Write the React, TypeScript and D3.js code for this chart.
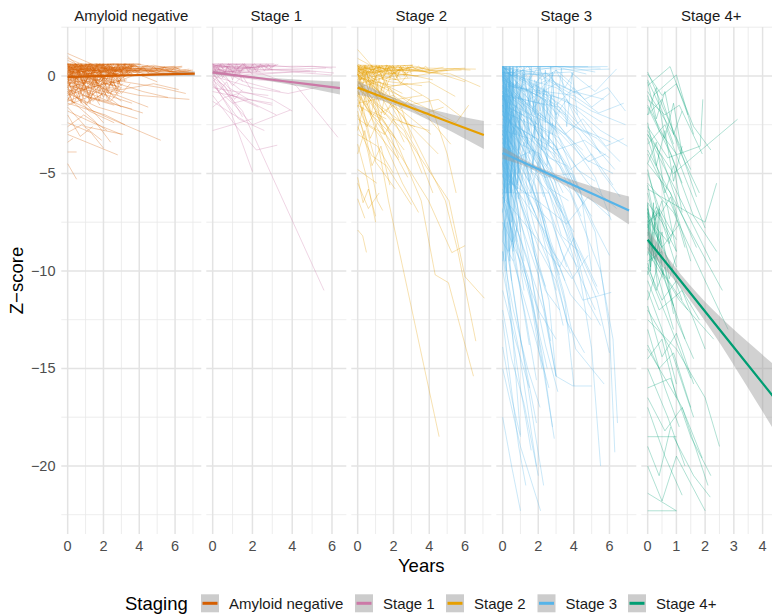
import React from 'react';
import * as d3 from 'd3';

const stageNames = ['Amyloid negative', 'Stage 1', 'Stage 2', 'Stage 3', 'Stage 4+'];
const stageColors = ['#D55E00', '#CC79A7', '#E69F00', '#56B4E9', '#009E73'];

// Each trajectory: flat list of [years, z-score, years, z-score, ...]
const amyloidNegative: number[][] = [
  [0, 0.6, 1.5, 0.55, 3.7, 0.6], [0, 0.5, 2, 0.6, 3.6, 0.5], [0, 0.4, 1.2, 0.5, 2.6, 0.6, 4.1, 0.6],
  [0, 0.3, 2, 0.4, 4, 0.5, 6.4, 0.45], [0, 0.2, 2.2, 0.3, 4.5, 0.4, 6.2, 0.4], [0, 0.1, 1.5, 0.3, 3, 0.3, 5.9, 0.3],
  [0, 0.5, 2.1, 0.45, 4.3, 0.35, 6.6, 0.3], [0, 0.0, 1.8, 0.2, 3.8, 0.25, 6.8, 0.2], [0, 0.35, 2, 0.25, 4.6, 0.3, 7, 0.15],
  [0, 0.15, 1.1, 0.4, 3.2, 0.35, 5.4, 0.4], [0, -0.2, 1, 0.1, 2.4, 0.3, 4.8, 0.25], [0, 0.25, 1.4, 0.0, 3.5, 0.2, 5.5, 0.1],
  [0, -0.1, 2.2, 0.1, 4.4, 0.0, 6.1, 0.2], [0, 0.45, 1.3, 0.3, 2.8, 0.1], [0, 0.6, 0.9, 0.4, 2.5, 0.5],
  [0, -0.4, 1.6, -0.1, 3.1, 0.2], [0, 0.05, 1, -0.3, 2.3, -0.1, 3.4, 0.1], [0, -0.6, 1.2, -0.3, 2.7, -0.5],
  [0, 0.3, 1.5, -0.2, 3, -0.6], [0, -0.3, 0.9, -0.7, 2.1, -0.4, 3.3, -0.2], [0, -0.8, 1.4, -0.5, 2.9, -0.9],
  [0, 0.2, 1, -0.5, 2, -1.0], [0, -1.0, 1.2, -0.6, 2.5, -0.3], [0, -0.5, 1.9, -0.9, 3.6, -1.4],
  [0, 0.1, 2, -0.6, 4, -1.0, 6.8, -1.2], [0, 0.4, 2.5, -0.2, 5.2, -0.6, 6.6, -0.9], [0, -1.3, 0.8, -1.0, 2.2, -1.3],
  [0, -1.5, 1.1, -1.1, 2.6, -1.5], [0, 1.15, 1.5, 0.55], [0, 0.9, 0.8, 0.6, 2.1, 0.55], [0, 0.8, 1.2, 0.3, 2.8, 0.4],
  [0, -0.2, 3, -0.7, 4.8, -0.4, 6.2, -0.7], [0, 0.0, 2.5, -0.3, 4.2, -0.8, 5.6, -1.1], [0, -0.7, 1.6, -1.2, 3.6, -1.7],
  [0, -1.8, 1.4, -2.4, 3, -3.0], [0, -2.6, 0.9, -2.0, 2.2, -2.8], [0, -3.0, 1.6, -3.6, 2.8, -4.05],
  [0, -0.9, 1.7, -1.6, 3.9, -2.2], [0, -1.2, 2.4, -2.2, 5.2, -3.3], [0, -4.5, 0.5, -5.3], [0, -3.9, 0.5, -3.9],
  [0, -2.4, 1.3, -2.9, 2, -3.7], [0, -1.6, 1, -2.6, 3.1, -3.0], [0, -0.6, 1.2, -1.8, 2.6, -2.4],
  [0, -2.0, 0.7, -3.1, 1.4, -2.6], [0, -1.4, 2.1, -2.0, 3.2, -2.5], [0, -2.9, 0.8, -2.5, 1.9, -3.3],
  [0, -0.4, 2.8, -1.5, 4.2, -1.9], [0, -3.4, 0.3, -3.2], [0, -1.1, 1.5, -2.3, 2.4, -3.4], [0, -0.8, 1.1, -1.5, 2, -2.4],
  [0, -0.3, 2.8, -1.0, 4.5, -1.6],
  [0, 0.6, 0.5, 0.2, 1.0, 0.6, 1.6, 0.1, 2.2, 0.55, 2.9, 0.2, 3.6, 0.6],
  [0, 0.2, 0.6, 0.6, 1.2, 0.0, 1.9, 0.5, 2.5, -0.1, 3.2, 0.4],
  [0, -0.3, 0.7, 0.3, 1.4, -0.2, 2.1, 0.4, 2.8, -0.3, 3.5, 0.2],
  [0, 0.45, 0.4, -0.2, 1.1, 0.3, 1.7, -0.4, 2.4, 0.2, 3.0, -0.2],
  [0, -0.6, 0.5, 0.1, 1.3, -0.5, 2.0, 0.0, 2.7, -0.7],
  [0, 0.0, 0.8, -0.8, 1.5, -0.2, 2.3, -0.9, 3.1, -0.4],
  [0, -0.9, 0.6, -0.3, 1.2, -1.0, 1.9, -0.4, 2.6, -1.1],
  [0, 0.55, 1.0, 0.0, 2.0, 0.45, 3.0, -0.1, 4.0, 0.3],
  [0, -0.15, 0.9, 0.45, 1.8, -0.3, 2.6, 0.35, 3.7, 0.0],
  [0, 0.35, 0.5, -0.5, 1.0, 0.2, 1.5, -0.6, 2.0, 0.1],
  [0, -1.2, 0.7, -0.5, 1.4, -1.3, 2.2, -0.7],
  [0, -0.45, 1.1, -1.1, 2.0, -0.6, 3.0, -1.3],
  [0, 0.1, 0.3, 0.6, 0.9, -0.4, 1.6, 0.5, 2.3, -0.5, 3.3, 0.3],
  [0, 0.6, 1.0, 0.3, 2.0, 0.6, 3.0, 0.3, 4.0, 0.6, 5.0, 0.4, 6.0, 0.5],
  [0, 0.4, 1.2, 0.6, 2.4, 0.3, 3.6, 0.55, 4.8, 0.25, 6.3, 0.4],
  [0, 0.25, 1.5, 0.5, 3.0, 0.2, 4.5, 0.45, 6.0, 0.2, 7.0, 0.3],
  [0, 0.5, 1.7, 0.15, 3.4, 0.45, 5.1, 0.15, 6.8, 0.35],
  [0, 0.05, 1.4, 0.35, 2.8, 0.05, 4.2, 0.35, 5.6, 0.05],
  [0, -0.25, 1.3, 0.15, 2.6, -0.35, 3.9, 0.1, 5.0, -0.3],
  [0, -0.7, 1.0, -1.4, 2.0, -0.9, 3.0, -1.6],
  [0, 0.62, 0.3, 0.3, 0.6, 0.62, 0.9, 0.2, 1.2, 0.6, 1.5, 0.25, 1.8, 0.62, 2.1, 0.3, 2.4, 0.6, 2.7, 0.2, 3.0, 0.55, 3.3, 0.3, 3.7, 0.62],
  [0, 0.4, 0.35, 0.0, 0.7, 0.45, 1.05, -0.1, 1.4, 0.4, 1.75, -0.05, 2.1, 0.45, 2.45, 0.0, 2.8, 0.5, 3.15, 0.05, 3.5, 0.4],
  [0, 0.1, 0.3, -0.4, 0.6, 0.2, 0.9, -0.5, 1.2, 0.1, 1.5, -0.45, 1.8, 0.15, 2.1, -0.5, 2.4, 0.0, 2.7, -0.6, 3.0, -0.1],
  [0, -0.3, 0.4, -0.9, 0.8, -0.2, 1.2, -1.0, 1.6, -0.3, 2.0, -1.1, 2.4, -0.4, 2.8, -1.0],
  [0, -0.8, 0.35, -1.4, 0.7, -0.7, 1.05, -1.5, 1.4, -0.9, 1.8, -1.5],
  [0, 0.55, 0.5, 0.05, 1.0, 0.5, 1.5, 0.0, 2.0, 0.55, 2.5, 0.1, 3.0, 0.5, 3.5, 0.15, 4.0, 0.45],
  [0, 0.25, 0.45, 0.62, 0.9, 0.1, 1.35, 0.55, 1.8, 0.0, 2.25, 0.5, 2.7, 0.05, 3.15, 0.6, 3.6, 0.1],
  [0, -0.1, 0.5, 0.4, 1.0, -0.3, 1.5, 0.35, 2.0, -0.4, 2.5, 0.25, 3.0, -0.5],
  [0, 0.62, 0.8, 0.45, 1.6, 0.62, 2.4, 0.4, 3.2, 0.62, 4.0, 0.45, 4.8, 0.55, 5.6, 0.4, 6.4, 0.5],
  [0, 0.45, 0.9, 0.2, 1.8, 0.5, 2.7, 0.25, 3.6, 0.5, 4.5, 0.2, 5.4, 0.45, 6.3, 0.25, 7.0, 0.2],
  [0, 0.3, 1.0, 0.55, 2.0, 0.25, 3.0, 0.5, 4.0, 0.2, 5.0, 0.4, 6.0, 0.15, 6.9, 0.3],
  [0, 0.15, 1.1, 0.4, 2.2, 0.1, 3.3, 0.45, 4.4, 0.05, 5.5, 0.3, 6.5, 0.1],
  [0, 0.5, 0.6, 0.62, 1.2, 0.35, 1.8, 0.62, 2.4, 0.35, 3.0, 0.62],
  [0, -0.5, 0.5, -0.1, 1.0, -0.7, 1.5, -0.2, 2.0, -0.8, 2.5, -0.3, 3.0, -0.9, 3.5, -0.4],
  [0, -1.0, 0.6, -0.4, 1.2, -1.2, 1.8, -0.5, 2.4, -1.3, 3.0, -0.6],
  [0, 0.0, 0.7, 0.3, 1.4, -0.1, 2.1, 0.35, 2.8, -0.05, 3.5, 0.3, 4.2, 0.0, 5.0, 0.3],
  [0, 0.6, 0.25, 0.1, 0.5, 0.6, 0.75, 0.0, 1.0, 0.55, 1.25, -0.1, 1.5, 0.5],
  [0, -0.2, 0.25, 0.5, 0.5, -0.3, 0.75, 0.45, 1.0, -0.4, 1.25, 0.4, 1.5, -0.3, 1.75, 0.35, 2.0, -0.2],
  [0, -1.3, 0.3, -0.5, 0.6, -1.2, 0.9, -0.3, 1.2, -1.0, 1.5, -0.2],
  [0, 0.62, 2.0, 0.62, 4.0, 0.62], [0, 0.62, 1.2, 0.5, 2.5, 0.62, 3.8, 0.55], [0, 1.0, 0.6, 0.5, 1.3, 0.62],
  [0, 0.62, 0.2, 0, 0.4, 0.62, 0.6, 0, 0.8, 0.62, 1.0, 0, 1.2, 0.62, 1.4, 0, 1.6, 0.62, 1.8, 0, 2.0, 0.62, 2.2, 0, 2.4, 0.62, 2.6, 0, 2.8, 0.62, 3.0, 0, 3.2, 0.62, 3.4, 0, 3.6, 0.6],
  [0, -0.4, 0.2, 0.3, 0.4, -0.4, 0.6, 0.3, 0.8, -0.4, 1.0, 0.3, 1.2, -0.4, 1.4, 0.3, 1.6, -0.4, 1.8, 0.3, 2.0, -0.4, 2.2, 0.3, 2.4, -0.4, 2.6, 0.3, 2.8, -0.4, 3.0, 0.3, 3.2, -0.3],
  [0, 0, 0.25, -0.9, 0.5, 0, 0.75, -0.9, 1.0, 0, 1.25, -0.9, 1.5, 0, 1.75, -0.9, 2.0, 0, 2.25, -0.9, 2.5, 0, 2.75, -0.8, 3.0, 0],
  [0, -0.5, 0.25, -1.4, 0.5, -0.5, 0.75, -1.4, 1.0, -0.5, 1.25, -1.4, 1.5, -0.5, 1.75, -1.3, 2.0, -0.6, 2.25, -1.3, 2.5, -0.7],
  [0, 0.2, 0.15, 0.62, 0.3, 0.2, 0.45, 0.62, 0.6, 0.2, 0.75, 0.62, 0.9, 0.2, 1.05, 0.62, 1.2, 0.2, 1.35, 0.62, 1.5, 0.2, 1.65, 0.62, 1.8, 0.2, 1.95, 0.62, 2.1, 0.2, 2.25, 0.62, 2.4, 0.2, 2.55, 0.62, 2.7, 0.2, 2.85, 0.62, 3.0, 0.2, 3.15, 0.62, 3.3, 0.2, 3.45, 0.62, 3.6, 0.3],
  [0, 0.5, 0.3, 0.15, 0.6, 0.5, 0.9, 0.15, 1.2, 0.5, 1.5, 0.15, 1.8, 0.5, 2.1, 0.15, 2.4, 0.5, 2.7, 0.15, 3.0, 0.5, 3.3, 0.15, 3.6, 0.5, 3.9, 0.15, 4.2, 0.5, 4.5, 0.15, 4.8, 0.5, 5.1, 0.2, 5.4, 0.45, 5.7, 0.2, 6.0, 0.45, 6.3, 0.3],
  [0, 0.2, 0.1, -0.5, 0.3, 0.2, 0.5, -0.5, 0.7, 0.2, 0.9, -0.5, 1.1, 0.2, 1.3, -0.5, 1.5, 0.2, 1.7, -0.5, 1.9, 0.2, 2.1, -0.5, 2.3, 0.2, 2.5, -0.5, 2.7, 0.1, 2.9, -0.4],
  [0, 0.4, 0.25, 0.62, 0.5, 0.3, 0.75, 0.62, 1.0, 0.3, 1.25, 0.62, 1.5, 0.3, 1.75, 0.62, 2.0, 0.3, 2.25, 0.62, 2.5, 0.3, 2.75, 0.62, 3.0, 0.3, 3.25, 0.62, 3.5, 0.35, 3.75, 0.6, 4.0, 0.35, 4.5, 0.55],
];

const stage1: number[][] = [
  [0, 0.6, 1.2, 0.6, 3.2, 0.55], [0, 0.5, 1.5, 0.4, 2.8, 0.5], [0, 0.4, 1.0, 0.5, 2.3, 0.4],
  [0, 0.3, 2.0, 0.45, 4.2, 0.5, 6.2, 0.45], [0, 0.2, 1.5, 0.3, 3.8, 0.35, 5.7, 0.4], [0, 0.55, 2.2, 0.35, 4.5, 0.3, 6.1, 0.15],
  [0, 0.1, 1.2, 0.25, 2.5, 0.15, 4.9, 0.25], [0, 0.45, 0.7, 0.2, 1.6, 0.3], [0, 0.35, 1.3, 0.15, 3.0, 0.3, 5.2, 0.2],
  [0, 0.0, 1.0, 0.35, 2.1, 0.45], [0, 0.25, 2.0, 0.05, 4.0, 0.2, 6.0, 0.05], [0, 0.6, 0.5, 0.45, 1.4, 0.6],
  [0, 0.15, 0.9, 0.0, 2.3, -0.2, 3.6, -0.3], [0, 0.3, 0.8, -0.6, 1.8, -1.2, 3.0, -1.4], [0, 0.1, 1.0, -1.0, 2.3, -1.6],
  [0, -0.2, 0.7, -0.9, 1.8, -1.3, 3.2, -2.0], [0, 0.4, 1.5, -0.8, 3.0, -1.2, 4.0, -1.8],
  [0, 0.2, 1.1, -1.5, 2.0, -2.5, 3.9, -1.75], [0, -0.5, 1.0, -1.4, 1.8, -1.2], [0, -0.3, 0.9, -1.8, 2.0, -4.9],
  [0, -1.0, 1.2, -2.6, 2.2, -3.8, 3.25, -3.55], [0, -2.8, 1.0, -2.5, 2.0, -2.2], [0, -1.6, 0.6, -1.1, 1.3, -0.9],
  [0.2, -0.3, 1.5, -1.8, 5.6, -11.0], [0, 0.3, 2.5, 0.1, 4.2, -0.5, 6.3, -3.15], [0, -0.6, 1.1, -0.8, 2.8, -1.0],
  [0, 0.5, 1.6, -0.3, 3.4, -0.8], [0, -0.4, 1.3, -2.2, 2.6, -2.8], [0, -0.1, 0.6, -0.5, 1.5, -2.1],
  [0, 0.0, 2.0, -0.6, 3.8, -0.9, 5.6, -0.5], [0, -1.3, 0.9, -1.9, 1.6, -2.3], [0, -0.8, 1.4, -1.1, 3.0, -1.5],
  [0, 0.55, 1.0, 0.45, 2.0, 0.55, 3.1, 0.5], [0, 0.35, 0.5, 0.55, 1.2, 0.3, 2.4, 0.5],
  [0, 0.62, 0.4, 0.3, 0.8, 0.62, 1.2, 0.35, 1.6, 0.62, 2.0, 0.3, 2.4, 0.6, 2.8, 0.35, 3.2, 0.6],
  [0, 0.45, 0.5, 0.62, 1.0, 0.2, 1.5, 0.6, 2.0, 0.25, 2.5, 0.55, 3.0, 0.3],
  [0, 0.3, 0.4, 0.0, 0.8, 0.4, 1.2, 0.05, 1.6, 0.45, 2.0, 0.1], [0, 0.62, 1.5, 0.62, 3.1, 0.62],
  [0, 0.5, 1.0, 0.6, 2.0, 0.45, 3.0, 0.55, 4.0, 0.45, 5.0, 0.5, 6.0, 0.4],
  [0, 0.2, 0.6, 0.5, 1.2, 0.15, 1.8, 0.5, 2.4, 0.2], [0, -0.3, 0.5, 0.2, 1.0, -0.5, 1.5, 0.0, 2.0, -0.8],
  [0, 0.0, 0.3, -0.8, 0.7, -0.3, 1.1, -1.2, 1.5, -0.7],
  [0, 0.62, 0.2, 0.15, 0.4, 0.62, 0.6, 0.15, 0.8, 0.62, 1.0, 0.15, 1.2, 0.62, 1.4, 0.15, 1.6, 0.62, 1.8, 0.2, 2.0, 0.6, 2.2, 0.2, 2.4, 0.6, 2.6, 0.25, 2.8, 0.6, 3.0, 0.3],
  [0, 0.4, 0.3, 0.62, 0.6, 0.3, 0.9, 0.62, 1.2, 0.3, 1.5, 0.62, 1.8, 0.35, 2.1, 0.62, 2.4, 0.4, 2.7, 0.6, 3.0, 0.45, 3.3, 0.6],
  [0, 0.1, 0.25, 0.5, 0.5, -0.1, 0.75, 0.45, 1.0, -0.2, 1.25, 0.4, 1.5, -0.3],
];

const stage2: number[][] = [
  [0, 0.5, 1.5, 0.5, 3.1, 0.55], [0, 0.4, 2.0, 0.45, 4.0, 0.4, 6.6, 0.35], [0, 0.3, 1.2, 0.4, 2.6, 0.3, 5.0, 0.3],
  [0, 0.2, 1.8, 0.3, 3.5, 0.25, 5.8, 0.3], [0, 0.5, 1.0, 0.3, 2.2, 0.45, 3.9, 0.2], [0, 0.1, 0.9, 0.2, 2.0, 0.1, 3.4, 0.0],
  [0, 0.0, 1.3, 0.25, 2.9, 0.35, 4.6, 0.1, 6.0, -0.3], [0, 0.45, 1.6, 0.2, 3.2, 0.0, 4.5, 0.2], [0, -0.2, 1.0, 0.0, 2.4, 0.2],
  [0, 0.35, 0.7, 0.1, 1.9, -0.2, 3.0, -0.1], [0, -0.4, 1.5, -0.1, 2.7, 0.1, 4.2, -0.2], [0, 0.25, 1.8, -0.3, 3.6, -0.5],
  [0, 1.35, 1.0, 0.3, 2.0, 0.0], [0, 0.9, 0.8, 0.5, 1.9, 0.3], [0, 0.15, 2.5, 0.3, 5.2, 0.1, 6.85, -0.55],
  [0, -0.1, 2.0, -0.5, 4.0, -0.3, 5.45, -1.05], [0, 0.3, 1.4, -0.6, 2.8, -0.4], [0, -0.6, 1.2, -0.3, 2.5, -0.9],
  [0, 0.05, 1.0, -0.8, 2.2, -1.2, 3.6, -1.0], [0, 0.5, 0.6, 0.2, 1.2, 0.5, 1.9, 0.1, 2.6, 0.45],
  [0, 0.2, 0.5, 0.5, 1.1, 0.0, 1.7, 0.4, 2.4, -0.1], [0, -0.3, 0.8, 0.35, 1.5, -0.2, 2.3, 0.3],
  [0, -0.3, 1.2, -1.5, 2.5, -2.4, 4.0, -2.8], [0, 0.2, 1.5, -1.0, 3.0, -2.6, 4.5, -4.0], [0, -0.9, 0.8, -2.0, 2.1, -3.2],
  [0, 0.4, 2.0, -0.8, 3.8, -2.0, 5.2, -3.5], [0, -1.5, 1.3, -2.2, 2.6, -3.8], [0, 0.1, 0.9, -1.6, 1.8, -3.5, 2.8, -5.2],
  [0, -0.5, 2.5, -1.8, 4.1, -3.0], [0, 0.3, 1.0, -0.5, 2.0, -2.2, 3.2, -2.6], [0, -2.2, 1.0, -2.8, 2.3, -4.3],
  [0, -1.2, 0.6, -2.5, 1.5, -3.0], [0, -3.0, 1.1, -3.6, 2.0, -5.0], [0, -4.8, 1.07, -5.5],
  [0, -2.6, 0.8, -4.1, 1.6, -4.6, 3.0, -6.6], [0, 0.2, 1.0, -2.8, 1.72, -6.4, 4.55, -18.5],
  [0, -0.5, 2.0, -3.0, 3.55, -6.4, 4.33, -10.2, 5.07, -10.6, 6.47, -15.4],
  [0, 0.1, 2.5, -2.0, 4.9, -6.4, 5.6, -9.0, 6.6, -13.6], [0, -1.0, 2.2, -3.8, 3.96, -6.4, 5.26, -9.06, 6.0, -8.7],
  [0, -0.3, 3.0, -3.5, 5.1, -6.4, 6.0, -10.3, 7.08, -11.4], [0, -7.9, 0.28, -8.2, 0.49, -9.05],
  [0, -3.5, 0.5, -5.2, 1.0, -7.5], [0, -1.8, 0.6, -4.0, 1.1, -6.4, 1.4, -6.9], [0, -5.5, 0.6, -6.8, 1.2, -6.0],
  [0, -0.8, 1.4, -3.2, 2.5, -5.5, 3.4, -7.0], [0, 0.3, 1.8, -1.4, 3.3, -3.8, 4.2, -6.0], [0, -0.2, 1.6, -2.5, 2.3, -4.2],
  [0, 0.0, 3.5, -1.5, 5.5, -2.4, 6.2, -1.5], [0, -1.4, 2.0, -1.0, 3.5, -2.0, 4.8, -1.6],
  [0, 0.1, 1.2, -0.8, 2.8, -1.5, 4.5, -1.2, 5.8, -2.1], [0, -0.4, 0.7, -1.8, 1.6, -2.2], [0, -2.0, 0.5, -3.3],
  [0, -6.3, 0.4, -7.3], [0, -1.0, 1.0, -4.4, 2.1, -5.8], [0, 0.4, 2.2, -0.2, 4.0, -1.2, 5.0, -4.0, 5.5, -6.0],
  [0, -0.6, 2.6, -2.8, 3.6, -5.0], [0, 0.5, 1.2, -0.6, 2.4, -1.5, 3.0, -3.2], [0, -1.6, 0.4, -0.6, 1.3, -1.9, 2.2, -1.4],
  [0, 0.55, 0.3, 0.1, 0.6, 0.55, 0.9, 0.05, 1.2, 0.5, 1.5, 0.0, 1.8, 0.55, 2.1, 0.1, 2.4, 0.5, 2.7, 0.05, 3.0, 0.5],
  [0, 0.2, 0.35, 0.55, 0.7, 0.0, 1.05, 0.5, 1.4, -0.1, 1.75, 0.45, 2.1, -0.2, 2.45, 0.4, 2.8, -0.1],
  [0, -0.2, 0.4, 0.3, 0.8, -0.4, 1.2, 0.25, 1.6, -0.5, 2.0, 0.2, 2.4, -0.4, 2.8, 0.1],
  [0, 0.55, 1.0, 0.55, 2.0, 0.5, 3.1, 0.55],
  [0, 0.4, 0.9, 0.1, 1.8, 0.45, 2.7, 0.15, 3.6, 0.4, 4.5, 0.2, 5.4, 0.35, 6.3, 0.3],
  [0, 0.3, 1.0, 0.5, 2.0, 0.2, 3.0, 0.45, 4.0, 0.15, 5.0, 0.35, 6.0, 0.4],
  [0, -0.5, 0.3, 0.1, 0.6, -0.7, 0.9, -0.1, 1.2, -0.9, 1.5, -0.3],
  [0, 0.1, 0.25, -0.6, 0.5, 0.2, 0.75, -0.8, 1.0, 0.0, 1.25, -1.0, 1.5, -0.2],
  [0, -0.8, 0.5, -1.5, 1.0, -0.9, 1.5, -2.0, 2.0, -1.2, 2.5, -2.4],
  [0, -2.8, 0.3, -1.6, 0.7, -3.2, 1.1, -2.4], [0, -4.0, 0.4, -2.8, 0.8, -4.6, 1.3, -3.6, 1.8, -5.6],
  [0, 0.6, 0.8, 0.3, 1.6, 0.55, 2.4, 0.3, 3.2, 0.5, 4.0, 0.3, 4.8, 0.45],
  [0, -1.0, 0.6, -0.2, 1.2, -1.3, 1.8, -0.6, 2.4, -1.7, 3.0, -1.1],
  [0, -1.5, 0.5, -2.6, 1.0, -1.8, 1.5, -3.0, 2.0, -2.2, 2.6, -3.4], [0, -5.2, 0.3, -6.5, 0.6, -5.8, 1.0, -7.2],
  [0, 0.55, 0.2, -0.2, 0.4, 0.55, 0.6, -0.2, 0.8, 0.55, 1.0, -0.2, 1.2, 0.55, 1.4, -0.2, 1.6, 0.55, 1.8, -0.1, 2.0, 0.5, 2.2, -0.1, 2.4, 0.5, 2.6, 0.0, 2.8, 0.5, 3.0, 0.1],
  [0, 0.1, 0.2, -0.7, 0.4, 0.1, 0.6, -0.8, 0.8, 0.0, 1.0, -0.9, 1.2, -0.1, 1.4, -1.0, 1.6, -0.2, 1.8, -1.0],
  [0, 0.3, 0.15, 0.55, 0.3, 0.25, 0.45, 0.55, 0.6, 0.25, 0.75, 0.55, 0.9, 0.3, 1.05, 0.55, 1.2, 0.3, 1.35, 0.55, 1.5, 0.3, 1.65, 0.55, 1.8, 0.35, 1.95, 0.55, 2.1, 0.35, 2.25, 0.55, 2.4, 0.35, 2.6, 0.55, 2.8, 0.4, 3.0, 0.55, 3.2, 0.35, 3.4, 0.5, 3.6, 0.35, 3.8, 0.5, 4.0, 0.3],
  [0, -0.6, 0.25, -1.8, 0.5, -0.7, 0.75, -2.0, 1.0, -0.9, 1.25, -2.3, 1.5, -1.1],
];

const stage3: number[][] = [
  [0, 0.48, 2.0, 0.48, 4.0, 0.48, 5.9, 0.48], [0, 0.48, 3.0, 0.48, 5.5, 0.4], [0, 0.3, 1.0, 0.48, 3.5, 0.48, 5.2, 0.2],
  [0, 0.48, 1.5, 0.2, 3.0, 0.48, 4.7, 0.1], [0, 0.1, 2.0, 0.4, 4.2, 0.3, 6.0, 0.35],
  [0, 0.48, 1.0, -0.5, 2.3, -1.2, 3.5, -2.0], [0, 0.2, 1.4, -0.3, 2.8, -1.0, 4.2, -1.6, 5.6, -2.4],
  [0, 0.0, 0.8, -1.0, 2.0, -1.8, 3.2, -3.0], [0, -0.3, 1.2, -0.8, 2.5, -0.2, 3.8, -0.9, 5.0, -0.5],
  [0, 0.4, 2.2, 0.0, 4.0, -0.8, 5.7, -1.2], [0, -0.8, 1.0, -1.5, 2.0, -2.8, 3.0, -4.0],
  [0, -1.2, 1.6, -2.0, 3.0, -2.6, 4.5, -3.8], [0, 0.3, 0.9, -0.9, 1.8, -2.5, 2.6, -4.5, 3.4, -6.0],
  [0, -0.5, 1.3, -1.8, 2.9, -3.5, 4.0, -5.5], [0, -2.0, 0.8, -2.6, 1.9, -3.2, 2.8, -4.8],
  [0, -1.5, 1.1, -3.0, 2.2, -4.5, 3.3, -7.0], [0, -0.2, 2.0, -1.0, 3.6, -2.4, 5.0, -3.0],
  [0, 0.48, 1.8, -0.6, 3.3, -1.5, 4.6, -2.8, 6.1, -3.4], [0, -2.5, 1.0, -3.5, 2.1, -4.0, 3.0, -5.5],
  [0, -3.0, 0.7, -4.2, 1.6, -5.6, 2.4, -7.5], [0, -1.0, 0.6, -2.2, 1.5, -3.8, 2.3, -6.2],
  [0, 0.1, 1.5, -1.2, 3.0, -0.4, 4.4, -1.0], [0, -3.5, 1.2, -4.5, 2.6, -6.0, 3.8, -8.5], [0, -4.0, 0.9, -5.2, 1.8, -7.0],
  [0, -0.6, 2.5, -2.2, 4.5, -4.2, 6.2, -5.0], [0, 0.2, 3.0, -0.6, 5.0, -1.8, 6.9, -2.5],
  [0, -0.4, 3.5, -1.2, 5.5, -2.8, 7.0, -3.6], [0, -1.8, 2.8, -3.0, 4.8, -5.5, 6.4, -6.8],
  [0, 0.0, 3.8, 0.2, 5.2, -0.8, 6.4, 0.36], [0, -0.5, 4.0, -1.0, 5.4, -1.9, 6.8, -1.4],
  [0, -1.0, 3.2, -1.6, 5.0, -3.4, 6.3, -4.8], [0, -2.2, 3.0, -3.8, 4.6, -3.3, 6.0, -4.2],
  [0, 0.4, 2.6, 0.1, 4.2, -2.0, 5.5, -4.0], [0, -2.8, 1.5, -3.2, 3.2, -4.6, 4.4, -7.2],
  [0, -0.9, 2.4, -1.5, 4.0, -3.6, 5.2, -5.2, 6.1, -7.4],
  [0, 0.48, 0.7, 0.0, 1.4, 0.48, 2.2, -0.2, 3.0, 0.3, 3.9, -0.4],
  [0, 0.2, 0.6, -0.6, 1.2, 0.1, 1.9, -0.9, 2.6, -0.2], [0, -0.4, 0.8, 0.3, 1.6, -0.6, 2.4, 0.2, 3.4, -0.8],
  [0, -3.2, 1.0, -5.0, 2.2, -8.0, 3.0, -11.0], [0, -1.5, 1.5, -4.5, 2.7, -8.5, 3.5, -10.5],
  [0, -0.5, 1.8, -3.5, 3.2, -7.0, 4.2, -10.0, 5.2, -12.0], [0, -2.0, 2.0, -5.0, 3.3, -9.0, 4.5, -11.5, 6.1, -11.1],
  [0, -4.5, 0.8, -6.5, 1.5, -9.5, 2.0, -12.5], [0, -5.0, 0.6, -7.5, 1.2, -11.0],
  [0, -3.8, 1.4, -7.5, 2.6, -11.5, 3.0, -15.4, 3.95, -15.9, 5.0, -15.9],
  [0, -2.5, 2.0, -6.5, 3.4, -11.0, 4.1, -14.0, 5.7, -15.8], [0, -6.0, 0.5, -8.0, 1.0, -11.0, 1.5, -13.8],
  [0, -5.5, 1.2, -9.0, 2.3, -12.0, 3.0, -15.4], [0, -1.0, 2.8, -5.5, 4.2, -9.5, 5.0, -14.0, 5.5, -20.0],
  [0, -0.8, 3.5, -4.5, 5.2, -8.0, 6.0, -13.0, 6.3, -19.3], [0, -2.0, 3.8, -6.0, 5.5, -10.0, 6.2, -13.5, 6.45, -17.8],
  [0, -7.0, 0.5, -10.5, 1.0, -13.5, 1.9, -17.8], [0, -8.0, 0.4, -11.5, 1.0, -18.4], [0, -13.9, 0.5, -16.5, 1.0, -18.5],
  [0, -17.5, 0.5, -20.0, 1.0, -22.3], [0, -15.0, 1.0, -19.0, 2.13, -22.3], [0, -10.0, 0.9, -14.0, 1.9, -20.0],
  [0, -6.5, 1.5, -10.5, 2.9, -18.6], [0, -4.2, 1.6, -8.0, 2.5, -12.8, 3.0, -15.4],
  [0, -3.0, 2.2, -7.2, 3.5, -11.6, 4.0, -15.9], [0, -9.0, 0.6, -12.0, 1.4, -15.0, 2.1, -17.0],
  [0, -11.0, 0.7, -13.5, 1.5, -16.0], [0, -12.0, 0.5, -14.5, 1.2, -16.8, 2.0, -20.5],
  [0, -7.5, 1.0, -9.5, 2.0, -12.0, 3.0, -13.5], [0, -1.2, 2.5, -4.8, 4.0, -8.6, 5.3, -11.5, 6.0, -14.2],
  [0, -0.3, 3.0, -2.8, 4.4, -6.0, 5.0, -10.0], [0, -6.2, 1.8, -8.2, 3.2, -9.8, 4.0, -8.3, 5.3, -10.8],
  [0, -5.2, 2.1, -6.5, 3.6, -7.6, 4.8, -6.2, 6.0, -7.2], [0, -4.8, 2.4, -8.0, 3.8, -11.2, 5.0, -12.5],
  [0, -8.5, 0.6, -9.5, 1.7, -13.0, 2.6, -16.0], [0, -2.6, 1.2, -6.0, 1.8, -9.2, 2.4, -10.8], [0, -6.0, 2.6, -6.0],
  [0, 0.48, 0.3, -3.5, 0.6, -5.0], [0, 0.3, 0.2, -4.0, 0.5, -6.2], [0, 0.48, 0.4, -2.5, 0.8, -5.8],
  [0, -0.5, 0.15, -4.5, 0.4, -3.0], [0, 0.1, 0.25, -5.5, 0.7, -4.0], [0, -1.0, 0.2, -6.0, 0.5, -2.0],
  [0, 0.48, 0.1, -3.0, 0.35, -6.5], [0, -2.0, 0.3, 0.2, 0.6, -1.5], [0, -3.5, 0.2, -0.5, 0.5, -4.5],
  [0, -5.5, 0.3, -1.0, 0.6, -3.8], [0, -6.0, 0.25, -2.5, 0.45, 0.48], [0, -4.5, 0.35, 0.0, 0.8, -2.2],
  [0, 0.2, 0.45, -3.2, 1.0, -1.8], [0, -2.8, 0.4, -6.0, 0.9, -4.2], [0, -1.5, 0.5, -4.8, 1.1, -6.0],
  [0, 0.48, 0.6, -1.2, 1.2, -3.6], [0, -4.0, 0.5, -1.8, 1.0, -5.5], [0, -6.5, 0.4, -3.8, 0.9, -7.2],
  [0, -3.0, 0.6, -2.0, 1.3, -4.2], [0, 0.0, 0.2, -1.8, 0.45, -5.2], [0, -5.0, 0.15, -2.0, 0.3, -6.8],
  [0, -0.8, 0.3, -2.2, 0.55, 0.3], [0, -7.0, 0.2, -5.0, 0.5, -8.5], [0, -8.5, 0.3, -6.0, 0.6, -9.5],
  [0, -9.5, 0.25, -7.5, 0.5, -10.5], [0, -6.8, 0.35, -9.0, 0.8, -7.8], [0, 0.4, 0.2, -2.6, 0.4, 0.2, 0.7, -3.0],
  [0, -1.8, 0.12, 0.4, 0.3, -4.2, 0.55, -2.6], [0, -4.8, 0.18, -1.2, 0.4, -5.6, 0.65, -3.4],
  [0, -3.2, 0.1, -5.8, 0.3, -2.8, 0.5, -0.4],
  [0, 0.48, 0.3, -0.8, 0.6, 0.3, 0.9, -1.2, 1.2, 0.1, 1.5, -1.5, 1.8, -0.2, 2.1, -1.8, 2.4, -0.5],
  [0, -0.6, 0.3, -2.0, 0.6, -0.4, 0.9, -2.4, 1.2, -0.9, 1.5, -2.8, 1.8, -1.2, 2.1, -3.0],
  [0, -1.8, 0.3, -3.4, 0.6, -1.6, 0.9, -3.8, 1.2, -2.2, 1.5, -4.0, 1.8, -2.6, 2.1, -4.5],
  [0, -3.0, 0.3, -4.8, 0.6, -2.8, 0.9, -5.0, 1.2, -3.4, 1.5, -5.4, 1.8, -3.9],
  [0, -4.4, 0.3, -6.0, 0.6, -4.2, 0.9, -6.3, 1.2, -4.6, 1.5, -6.6],
  [0, 0.2, 0.4, -1.5, 0.8, -0.3, 1.2, -2.0, 1.6, -0.8, 2.0, -2.5, 2.4, -1.2, 2.8, -3.0, 3.2, -1.8],
  [0, -1.2, 0.4, 0.3, 0.8, -1.6, 1.2, 0.0, 1.6, -2.0, 2.0, -0.5, 2.4, -2.2, 2.8, -0.9],
  [0, -2.4, 0.4, -1.0, 0.8, -3.0, 1.2, -1.4, 1.6, -3.4, 2.0, -1.9, 2.4, -3.8, 2.8, -2.4, 3.2, -4.4],
  [0, -3.6, 0.4, -2.2, 0.8, -4.2, 1.2, -2.8, 1.6, -4.8, 2.0, -3.2, 2.4, -5.2],
  [0, -5.2, 0.4, -3.6, 0.8, -5.6, 1.2, -4.0, 1.6, -6.0, 2.0, -4.4],
  [0, 0.48, 0.5, 0.0, 1.0, 0.48, 1.5, -0.2, 2.0, 0.48, 2.5, -0.4, 3.0, 0.3, 3.5, -0.6, 4.0, 0.2],
  [0, -0.2, 0.6, -1.2, 1.2, -0.4, 1.8, -1.6, 2.4, -0.8, 3.0, -2.0, 3.6, -1.2, 4.2, -2.4],
  [0, -7.0, 0.25, -5.5, 0.5, -7.5, 0.75, -6.0, 1.0, -8.0], [0, -8.0, 0.3, -6.8, 0.6, -8.8, 0.9, -7.2, 1.2, -9.5],
  [0, 0.48, 0.15, -2.0, 0.3, 0.2, 0.45, -2.5, 0.6, -0.2],
  [0, -2.5, 0.15, -5.0, 0.3, -2.0, 0.45, -5.5, 0.6, -2.6, 0.75, -5.8],
  [0, -4.0, 0.1, -6.5, 0.25, -3.5, 0.4, -6.8, 0.55, -4.2],
  [0, 0.3, 1.5, -0.5, 3.0, -1.5, 4.0, -0.6, 5.0, -1.6, 6.0, -0.9],
  [0, -0.7, 2.0, -2.0, 3.5, -3.0, 4.5, -2.2, 5.8, -3.6, 6.8, -3.2],
  [0, 0.48, 2.5, -0.8, 4.0, -2.6, 5.3, -3.2, 6.6, -4.4], [0, -1.4, 2.2, -2.6, 3.8, -4.8, 5.0, -4.0, 6.2, -5.6],
  [0, -0.1, 2.8, -1.4, 4.3, -3.0, 5.6, -5.0, 6.6, -6.2], [0, 0.2, 3.2, 0.0, 4.6, -1.2, 5.9, -0.6, 6.9, -1.8],
  [0, 0.48, 2.6, 0.48, 4.8, 0.48], [0, -3.8, 2.4, -5.2, 3.9, -5.0, 5.1, -7.6, 6.0, -9.2],
  [0, -2.2, 1.8, -5.6, 2.9, -9.8, 3.6, -12.6, 4.6, -14.2], [0, -4.6, 1.1, -7.8, 2.0, -10.2, 2.7, -13.6],
  [0, -6.2, 0.7, -9.6, 1.3, -12.4, 1.9, -15.6], [0, -9.0, 0.5, -13.0, 1.0, -16.0, 1.6, -19.2],
  [0, -12.5, 0.4, -15.4, 0.9, -19.0, 1.3, -21.0], [0, -0.9, 2.4, -4.0, 3.9, -8.0, 4.8, -11.6, 5.5, -12.8],
  [0, -3.4, 1.6, -6.6, 2.8, -9.0, 3.9, -10.4, 4.8, -9.2], [0, -5.8, 1.4, -9.4, 2.4, -13.8, 3.1, -16.2],
  [0, 0.48, 0.1, -6.0, 0.2, 0.48, 0.3, -6.0, 0.4, 0.48, 0.5, -6.0, 0.6, 0.48, 0.7, -5.5, 0.8, 0.48, 0.9, -5.0, 1.0, 0.3],
  [0.05, -6.0, 0.15, 0.48, 0.25, -6.0, 0.35, 0.48, 0.45, -6.0, 0.55, 0.48, 0.65, -6.0, 0.75, 0.2, 0.85, -5.5, 0.95, 0.0],
  [0, -3.0, 0.08, 0.48, 0.16, -3.5, 0.24, 0.48, 0.32, -4.0, 0.4, 0.48, 0.48, -3.5, 0.56, 0.3, 0.64, -3.0],
  [0, -10.0, 0.1, -5.0, 0.2, -10.0, 0.3, -5.5, 0.4, -9.5, 0.5, -5.0, 0.6, -9.0, 0.7, -5.5, 0.8, -8.5],
  [0.05, -5.5, 0.15, -9.5, 0.25, -4.5, 0.35, -9.0, 0.45, -5.0, 0.55, -8.5, 0.65, -4.8],
  [0.8, 0.48, 1.0, -3.0, 1.2, 0.48, 1.4, -3.5, 1.6, 0.48, 1.8, -3.2, 2.0, 0.4, 2.2, -3.8, 2.4, 0.3, 2.6, -3.5, 2.8, 0.2, 3.0, -3.0],
  [0.9, -4.0, 1.1, 0.2, 1.3, -4.5, 1.5, 0.0, 1.7, -4.8, 1.9, -0.3, 2.1, -5.0, 2.3, -0.6, 2.5, -4.6, 2.7, -1.0, 2.9, -4.2],
  [0, -1.0, 0.12, -4.8, 0.24, -0.6, 0.36, -5.2, 0.48, -1.2, 0.6, -5.6, 0.72, -1.5, 0.84, -5.8, 0.96, -2.0],
  [1.5, 0.48, 1.8, -2.0, 2.1, 0.48, 2.4, -2.4, 2.7, 0.48, 3.0, -2.2, 3.3, 0.4, 3.6, -2.6, 3.9, 0.2, 4.2, -2.0],
  [0, -1.0, 1.0, -2.5, 2.0, -4.5, 3.0, -6.5, 4.0, -8.0], [0, -2.0, 1.2, -3.0, 2.4, -5.5, 3.4, -6.8, 4.4, -9.5],
  [0, 0.0, 1.4, -1.5, 2.6, -3.8, 3.6, -5.2, 4.6, -6.6], [0, -0.5, 1.0, -1.2, 2.0, -3.0, 3.0, -3.6, 4.0, -5.8, 5.0, -7.2],
  [0, -3.0, 1.0, -4.0, 2.0, -6.8, 2.8, -7.6, 3.6, -9.8], [0, -1.5, 1.6, -2.2, 2.6, -4.2, 3.6, -4.6, 4.4, -6.0],
  [0, 0.48, 1.2, -0.8, 2.2, -2.6, 3.2, -3.2, 4.2, -4.8, 5.2, -5.4], [0, -4.0, 0.8, -5.8, 1.6, -8.6, 2.4, -11.0, 3.2, -12.0],
  [0, -2.4, 0.9, -4.6, 1.8, -7.8, 2.6, -9.6, 3.4, -12.8], [0, -0.8, 0.8, -3.2, 1.6, -5.4, 2.4, -8.4, 3.2, -10.2],
  [0, -5.0, 0.7, -8.0, 1.4, -10.6, 2.2, -14.2, 2.8, -18.0], [0, -3.6, 0.6, -6.4, 1.2, -9.8, 1.8, -12.2, 2.5, -15.0],
  [0, -7.5, 0.6, -11.0, 1.2, -14.6, 1.8, -18.2, 2.3, -21.0], [0, -6.0, 0.8, -9.0, 1.6, -11.6, 2.2, -15.0],
  [0, -1.8, 1.3, -3.6, 2.3, -5.0, 3.3, -8.2, 4.3, -9.0, 5.4, -11.2], [0, -0.2, 1.6, -0.9, 2.8, -2.2, 3.8, -3.2, 4.8, -4.4, 5.8, -4.0],
  [0, -2.8, 1.1, -4.4, 2.0, -5.2, 3.0, -7.8, 4.2, -9.8], [0, -4.5, 1.0, -6.2, 2.0, -8.8, 3.0, -10.5, 3.8, -13.2],
  [0, 0.2, 0.9, -1.8, 1.9, -3.4, 2.9, -4.0, 3.9, -5.6], [0, -3.2, 0.8, -4.2, 1.7, -3.8, 2.7, -5.8, 3.7, -6.4],
];

const stage4Plus: number[][] = [
  [0, 0.2, 0.8, -2.5, 1.5, -4.8], [0, -0.5, 0.78, 0.48, 1.4, -2.0], [0.2, -1.0, 1.0, 0.05, 1.6, -3.0],
  [0, -1.5, 0.6, -3.2, 1.2, -5.5], [0, -2.0, 0.5, -1.2, 1.1, -3.8, 1.8, -6.0], [0, -3.0, 0.9, -5.0, 3.13, -2.22],
  [0, -2.6, 0.7, -4.2, 1.83, -3.6, 1.92, -1.2], [0, -1.0, 0.4, -2.8, 1.0, -4.0],
  [0, -3.5, 0.6, -2.5, 1.3, -5.2, 2.0, -7.8], [0, -4.0, 0.5, -5.5, 1.0, -7.2], [0, -0.8, 1.0, -3.2, 1.7, -6.2],
  [0, -5.0, 0.4, -6.8, 1.0, -8.4], [0, -4.5, 0.8, -6.0, 1.5, -9.5], [0, -6.5, 0.5, -7.5, 1.0, -9.0],
  [0, -6.8, 0.3, -8.2, 0.9, -10.0], [0, -7.0, 0.6, -9.0, 1.2, -11.5], [0, -7.5, 0.4, -7.0, 1.0, -9.8],
  [0, -8.0, 0.5, -10.0, 1.4, -12.0], [0, -6.0, 0.3, -7.8, 0.7, -8.5], [0, -7.2, 0.5, -8.8, 1.1, -7.6],
  [0, -8.5, 0.4, -9.5, 0.9, -11.8], [0, -9.0, 0.6, -10.5, 1.3, -13.5], [0, -6.6, 0.2, -9.2, 0.6, -10.4],
  [0, -7.8, 0.3, -6.7, 0.8, -8.2], [0, -9.5, 0.5, -9.0, 1.0, -12.5, 1.6, -14.5], [0, -10.0, 0.7, -12.5, 1.5, -15.5],
  [0, -5.5, 0.9, -7.0, 2.0, -10.5, 2.8, -13.0], [0, -3.0, 1.2, -6.5, 2.2, -9.5], [0, -11.0, 0.5, -13.0, 1.0, -15.8],
  [0, -12.0, 0.8, -14.0, 1.6, -17.5], [0, -10.5, 0.4, -12.0, 1.2, -11.0, 2.0, -14.0], [0, -13.0, 0.6, -16.0, 1.1, -18.0],
  [0, -14.5, 0.5, -13.5, 1.0, -16.5], [0, -15.0, 0.7, -17.5, 1.3, -20.0], [0, -18.5, 1.0, -18.5],
  [0, -22.3, 1.0, -22.3], [0, -21.4, 1.0, -22.3], [0, -20.0, 0.5, -21.8, 1.0, -19.5, 2.0, -22.3],
  [0, -17.0, 0.6, -19.5, 1.2, -21.5], [0.9, -18.5, 1.6, -20.5, 2.18, -21.6], [0, -16.0, 0.8, -15.5, 1.5, -18.5, 2.2, -20.5],
  [0, -12.5, 1.0, -14.0, 2.0, -16.5, 2.5, -19.0], [0, -8.8, 1.1, -11.5, 2.3, -13.5],
  [0, -9.8, 0.5, -11.5, 1.0, -10.5, 1.8, -12.5], [0, -4.8, 0.4, -7.2, 0.8, -6.2, 1.3, -8.8],
  [0, -2.4, 0.3, -4.5, 0.7, -6.8, 1.0, -9.0], [0, -1.2, 0.6, -2.0, 1.1, -1.5, 1.9, -4.0], [0, -0.2, 0.5, -1.8, 0.9, -3.5],
  [0, -13.8, 0.4, -15.0, 0.9, -14.2, 1.5, -17.0], [0, -11.5, 0.3, -10.0, 0.9, -13.0], [0, -19.0, 0.4, -20.5, 0.8, -18.0],
  [0, -8.2, 0.2, -7.0, 0.5, -8.6], [0, -7.0, 0.15, -9.5, 0.4, -8.0], [0, -9.2, 0.25, -7.5, 0.55, -10.2],
  [0, -6.8, 0.35, -10.8], [0, -10.2, 0.2, -8.0], [0, -5.8, 2.0, -7.5, 2.4, -5.5], [0, -3.8, 1.5, -8.0, 2.6, -11.0],
  [0, -14.0, 1.2, -17.0, 2.1, -21.0], [0, -7.4, 0.1, -9.8, 0.3, -6.9, 0.45, -9.6],
  [0, -0.3, 0.3, -2.2, 0.6, -0.8, 0.9, -3.0, 1.2, -1.8], [0, -2.0, 0.3, -0.6, 0.6, -3.2, 0.9, -1.4, 1.2, -4.0],
  [0, -3.2, 0.3, -4.6, 0.6, -2.8, 0.9, -5.4, 1.2, -3.6], [0, -4.5, 0.3, -3.4, 0.6, -6.0, 0.9, -4.6, 1.2, -7.0],
  [0, -5.6, 0.25, -7.4, 0.5, -6.4, 0.75, -8.6, 1.0, -7.4], [0, -7.6, 0.25, -9.4, 0.5, -8.0, 0.75, -10.4, 1.0, -9.2],
  [0, -9.6, 0.3, -11.0, 0.6, -9.8, 0.9, -12.2], [0, 0.1, 0.5, -1.0, 1.0, -0.4, 1.6, -2.6, 2.2, -3.8],
  [0, -1.6, 0.8, -4.0, 1.6, -7.2, 2.4, -9.0], [0, -11.8, 0.5, -14.4, 1.0, -13.2, 1.6, -15.8],
  [0, -16.5, 0.6, -18.2, 1.2, -17.0, 1.9, -19.6], [0, -2.8, 0.5, -4.2, 1.1, -6.8, 1.7, -8.8],
  [0, -6.5, 0.1, -10.0, 0.2, -6.5, 0.3, -10.0, 0.4, -6.8, 0.5, -9.8],
];

// Linear fit (geom_smooth): end year, start and end z-scores
const fitT1 = [7.1, 6.4, 7.05, 7.1, 4.6];
const fitZ0 = [-0.05, 0.18, -0.6, -3.95, -8.4];
const fitZ1 = [0.12, -0.62, -3.03, -6.9, -16.86];
// Half-width of the confidence band at 0, 25, 50, 75 and 100 % of the fitted span
const bandHalf = [
  [0.06, 0.03, 0.04, 0.07, 0.12],
  [0.09, 0.05, 0.1, 0.2, 0.33],
  [0.35, 0.18, 0.25, 0.45, 0.72],
  [0.3, 0.13, 0.2, 0.42, 0.72],
  [0.55, 0.35, 0.6, 1.15, 1.8],
];

const xMaxYears = [7.11, 6.4, 7.11, 7.15, 4.43];
const xMajorTicks = [[0, 2, 4, 6], [0, 2, 4, 6], [0, 2, 4, 6], [0, 2, 4, 6], [0, 1, 2, 3, 4]];
const xMinorTicks = [[1, 3, 5, 7], [1, 3, 5], [1, 3, 5, 7], [1, 3, 5, 7], [0.5, 1.5, 2.5, 3.5, 4.5]];
const yMajorTicks = [0, -5, -10, -15, -20];
const yMinorTicks = [2.5, -2.5, -7.5, -12.5, -17.5, -22.5];
const legendKeyX = [201, 355, 446, 537.5, 628];

const allSeries = [amyloidNegative, stage1, stage2, stage3, stage4Plus];

const fmt = (v: number) => (v < 0 ? '\u2212' + Math.abs(v) : String(v));

export default function App() {
  const W = 772;
  const H = 614;
  const panelTop = 27;
  const panelBottom = 534;
  const panelW = 140;
  const panelStep = 145;
  const firstLeft = 61.3;
  const y = d3.scaleLinear().domain([-23.49, 2.51]).range([panelBottom, panelTop]);
  const font = "'Liberation Sans', Arial, Helvetica, sans-serif";

  return (
    <svg width={W} height={H} style={{ position: 'absolute', left: 0, top: 0 }} fontFamily={font}>
      <rect width={W} height={H} fill="#ffffff" />
      <defs>
        {stageNames.map((_, i) => (
          <clipPath id={`clip${i}`} key={i}>
            <rect x={firstLeft + i * panelStep} y={panelTop} width={panelW} height={panelBottom - panelTop} />
          </clipPath>
        ))}
      </defs>
      {stageNames.map((name, i) => {
        const left = firstLeft + i * panelStep;
        const T = xMaxYears[i];
        const x = d3.scaleLinear().domain([-0.05 * T, 1.05 * T]).range([left, left + panelW]);
        const line = d3.line<number[]>().x((d) => x(d[0])).y((d) => y(d[1]));
        const fitPts = [0, 0.25, 0.5, 0.75, 1].map((f, k) => {
          const t = f * fitT1[i];
          const z = fitZ0[i] + f * (fitZ1[i] - fitZ0[i]);
          return { t, z, h: bandHalf[i][k] };
        });
        const area = d3
          .area<{ t: number; z: number; h: number }>()
          .x((d) => x(d.t))
          .y0((d) => y(d.z - d.h))
          .y1((d) => y(d.z + d.h))
          .curve(d3.curveMonotoneX);
        const fitLine = d3
          .line<{ t: number; z: number }>()
          .x((d) => x(d.t))
          .y((d) => y(d.z));
        return (
          <g key={name}>
            {yMinorTicks.map((v) => (
              <line key={'ym' + v} x1={left} x2={left + panelW} y1={y(v)} y2={y(v)} stroke="#e8e8e8" strokeWidth={0.8} />
            ))}
            {xMinorTicks[i]
              .filter((v) => x(v) <= left + panelW)
              .map((v) => (
                <line key={'xm' + v} x1={x(v)} x2={x(v)} y1={panelTop} y2={panelBottom} stroke="#e8e8e8" strokeWidth={0.8} />
              ))}
            {yMajorTicks.map((v) => (
              <line key={'yM' + v} x1={left} x2={left + panelW} y1={y(v)} y2={y(v)} stroke="#e3e3e3" strokeWidth={1.5} />
            ))}
            {xMajorTicks[i].map((v) => (
              <line key={'xM' + v} x1={x(v)} x2={x(v)} y1={panelTop} y2={panelBottom} stroke="#e3e3e3" strokeWidth={1.5} />
            ))}
            <g clipPath={`url(#clip${i})`}>
              {allSeries[i].map((traj, k) => {
                const pts: number[][] = [];
                for (let j = 0; j < traj.length; j += 2) pts.push([traj[j], traj[j + 1]]);
                return (
                  <path
                    key={k}
                    d={line(pts) || ''}
                    fill="none"
                    stroke={stageColors[i]}
                    strokeOpacity={0.35}
                    strokeWidth={0.9}
                    strokeLinejoin="round"
                  />
                );
              })}
              <path d={area(fitPts) || ''} fill="#999999" fillOpacity={0.45} />
              <path d={fitLine(fitPts) || ''} fill="none" stroke={stageColors[i]} strokeWidth={2.2} />
            </g>
            <text x={left + panelW / 2} y={21} textAnchor="middle" fontSize={15} fill="#1a1a1a">
              {name}
            </text>
            {xMajorTicks[i].map((v) => (
              <text key={'xt' + v} x={x(v)} y={551} textAnchor="middle" fontSize={14.5} fill="#4d4d4d">
                {fmt(v)}
              </text>
            ))}
          </g>
        );
      })}
      {yMajorTicks.map((v) => (
        <text key={'yt' + v} x={55.5} y={y(v) + 5} textAnchor="end" fontSize={14.5} fill="#4d4d4d">
          {fmt(v)}
        </text>
      ))}
      <text x={(firstLeft + 4 * panelStep + panelW + firstLeft) / 2} y={571.5} textAnchor="middle" fontSize={18.5} fill="#000">
        Years
      </text>
      <text transform="translate(22.5,280.5) rotate(-90)" textAnchor="middle" fontSize={18.5} fill="#000">
        Z{'\u2212'}score
      </text>
      <text x={125} y={609.5} fontSize={18.5} fill="#000">
        Staging
      </text>
      {stageNames.map((name, i) => (
        <g key={'lg' + i}>
          <rect x={legendKeyX[i]} y={594.3} width={18} height={18} fill="#cccccc" />
          <line x1={legendKeyX[i] + 1.5} x2={legendKeyX[i] + 16.5} y1={603.3} y2={603.3} stroke={stageColors[i]} strokeWidth={3} />
          <text x={legendKeyX[i] + 28} y={609.3} fontSize={15} fill="#1a1a1a">
            {name}
          </text>
        </g>
      ))}
    </svg>
  );
}
